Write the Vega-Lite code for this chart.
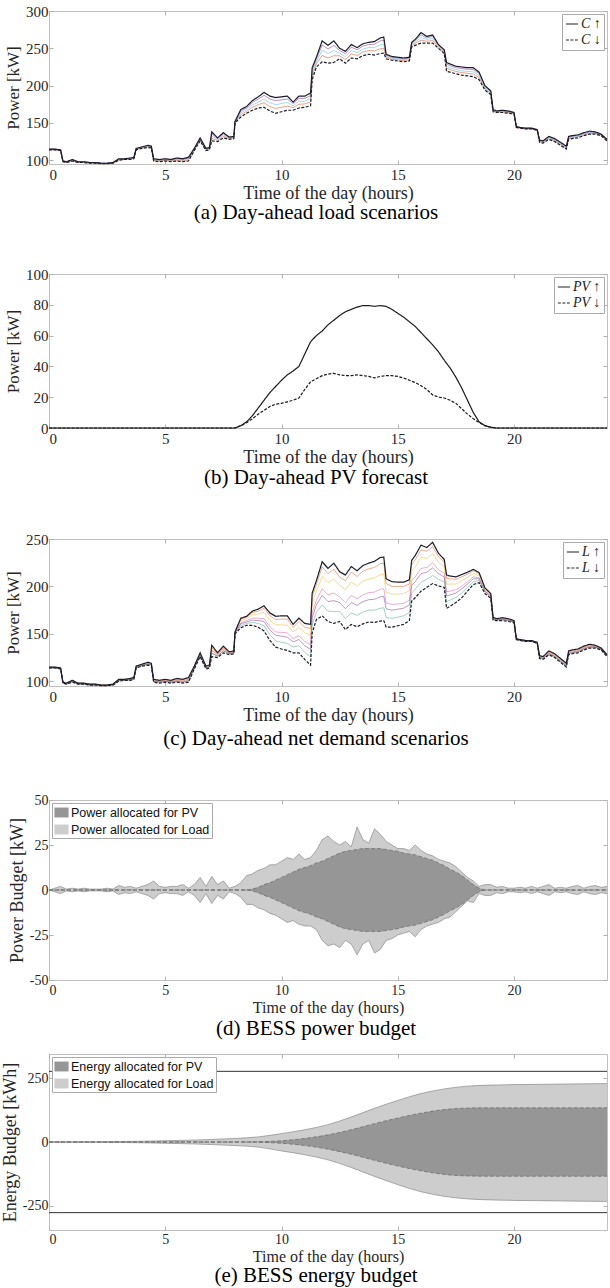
{
"$schema": "https://vega.github.io/schema/vega-lite/v6.json",
"padding": {"left": 0, "top": 3, "right": 0, "bottom": 0},
"background": "white",
"config": {
  "font": "Liberation Serif",
  "view": {"stroke": "#c0c0c0", "strokeWidth": 1},
  "axis": {"grid": false, "domain": false, "ticks": true, "tickSize": -4, "tickColor": "#b0b0b0", "labelOverlap": false, "labelFont": "Liberation Serif", "labelFontSize": 15, "labelColor": "#262626", "labelPadding": 7, "titleFont": "Liberation Serif", "titleFontWeight": "normal", "titleColor": "#262626"},
  "axisX": {"titleFontSize": 18, "titlePadding": 2},
  "axisY": {"titleFontSize": 17, "titlePadding": 3, "labelPadding": 5},
  "title": {"font": "Liberation Serif", "fontSize": 21, "fontWeight": "normal", "color": "#000000", "orient": "bottom", "anchor": "middle", "offset": 2}
},
"datasets": {
"ac": [
{"t":0,"au":115,"al":114,"a1":115,"a2":114.5,"a3":114,"cu":115,"cl":114,"c1":115,"c2":114.5,"c3":114.5,"c4":114,"c5":114},
{"t":0.25,"au":115,"al":114,"a1":115,"a2":114.5,"a3":114,"cu":115,"cl":114,"c1":115,"c2":114.5,"c3":114.5,"c4":114,"c5":114},
{"t":0.5,"au":114,"al":113,"a1":114,"a2":113.5,"a3":113,"cu":114,"cl":113,"c1":114,"c2":113.5,"c3":113.5,"c4":113,"c5":113},
{"t":0.6,"au":99,"al":98,"a1":99,"a2":98.5,"a3":98,"cu":99,"cl":98,"c1":99,"c2":98.5,"c3":98.5,"c4":98,"c5":98},
{"t":0.75,"au":98,"al":97,"a1":98,"a2":97.5,"a3":97,"cu":98,"cl":97,"c1":98,"c2":97.5,"c3":97.5,"c4":97,"c5":97},
{"t":1,"au":101,"al":99,"a1":100.5,"a2":100,"a3":99.5,"cu":101,"cl":99,"c1":100.5,"c2":100,"c3":100,"c4":99.5,"c5":99.5},
{"t":1.25,"au":98,"al":97,"a1":98,"a2":97.5,"a3":97,"cu":98,"cl":97,"c1":98,"c2":97.5,"c3":97.5,"c4":97,"c5":97},
{"t":1.5,"au":98,"al":97,"a1":98,"a2":97.5,"a3":97,"cu":98,"cl":97,"c1":98,"c2":97.5,"c3":97.5,"c4":97,"c5":97},
{"t":1.75,"au":97,"al":96,"a1":97,"a2":96.5,"a3":96,"cu":97,"cl":96,"c1":97,"c2":96.5,"c3":96.5,"c4":96,"c5":96},
{"t":2,"au":97,"al":96,"a1":97,"a2":96.5,"a3":96,"cu":97,"cl":96,"c1":97,"c2":96.5,"c3":96.5,"c4":96,"c5":96},
{"t":2.25,"au":96,"al":95.5,"a1":96,"a2":96,"a3":95.5,"cu":96,"cl":95.5,"c1":96,"c2":96,"c3":96,"c4":95.5,"c5":95.5},
{"t":2.5,"au":96,"al":95.5,"a1":96,"a2":96,"a3":95.5,"cu":96,"cl":95.5,"c1":96,"c2":96,"c3":96,"c4":95.5,"c5":95.5},
{"t":2.75,"au":97,"al":96,"a1":97,"a2":96.5,"a3":96,"cu":97,"cl":96,"c1":97,"c2":96.5,"c3":96.5,"c4":96,"c5":96},
{"t":3,"au":102,"al":100,"a1":101.5,"a2":101,"a3":100.5,"cu":102,"cl":100,"c1":101.5,"c2":101,"c3":101,"c4":100.5,"c5":100.5},
{"t":3.25,"au":102,"al":101,"a1":102,"a2":101.5,"a3":101,"cu":102,"cl":101,"c1":102,"c2":101.5,"c3":101.5,"c4":101,"c5":101},
{"t":3.5,"au":103,"al":101,"a1":102.5,"a2":102,"a3":101.5,"cu":103,"cl":101,"c1":102.5,"c2":102,"c3":102,"c4":101.5,"c5":101.5},
{"t":3.65,"au":104,"al":102,"a1":103.5,"a2":103,"a3":102.5,"cu":104,"cl":102,"c1":103.5,"c2":103,"c3":103,"c4":102.5,"c5":102.5},
{"t":3.75,"au":116,"al":114,"a1":115.5,"a2":115,"a3":114.5,"cu":116,"cl":114,"c1":115.5,"c2":115,"c3":115,"c4":114.5,"c5":114.5},
{"t":4,"au":118,"al":116,"a1":117.5,"a2":117,"a3":116.5,"cu":118,"cl":116,"c1":117.5,"c2":117,"c3":117,"c4":116.5,"c5":116.5},
{"t":4.25,"au":120,"al":117,"a1":119.5,"a2":118.5,"a3":118,"cu":120,"cl":117,"c1":119.5,"c2":118.5,"c3":118.5,"c4":118,"c5":118},
{"t":4.4,"au":119,"al":116.5,"a1":118.5,"a2":118,"a3":117.5,"cu":119,"cl":116.5,"c1":118.5,"c2":118,"c3":118,"c4":117.5,"c5":117.5},
{"t":4.5,"au":102,"al":99,"a1":101.5,"a2":100.5,"a3":100,"cu":102,"cl":99,"c1":101.5,"c2":100.5,"c3":100.5,"c4":100,"c5":100},
{"t":4.75,"au":101,"al":98,"a1":100.5,"a2":99.5,"a3":99,"cu":101,"cl":98,"c1":100.5,"c2":99.5,"c3":99.5,"c4":99,"c5":99},
{"t":5,"au":102,"al":99,"a1":101.5,"a2":100.5,"a3":100,"cu":102,"cl":99,"c1":101.5,"c2":100.5,"c3":100.5,"c4":100,"c5":100},
{"t":5.25,"au":101,"al":98,"a1":100.5,"a2":99.5,"a3":99,"cu":101,"cl":98,"c1":100.5,"c2":99.5,"c3":99.5,"c4":99,"c5":99},
{"t":5.5,"au":103,"al":99,"a1":102,"a2":101,"a3":100,"cu":103,"cl":99,"c1":102,"c2":101,"c3":101,"c4":100,"c5":100},
{"t":5.75,"au":102,"al":98,"a1":101,"a2":100,"a3":99,"cu":102,"cl":98,"c1":101,"c2":100,"c3":100,"c4":99,"c5":99},
{"t":6,"au":104,"al":99,"a1":103,"a2":102,"a3":100.5,"cu":104,"cl":99,"c1":103,"c2":102,"c3":102,"c4":100.5,"c5":100.5},
{"t":6.25,"au":116,"al":113,"a1":115.5,"a2":114.5,"a3":114,"cu":116,"cl":113,"c1":115.5,"c2":114.5,"c3":114.5,"c4":114,"c5":114},
{"t":6.5,"au":130,"al":126,"a1":129,"a2":128,"a3":127,"cu":130,"cl":126,"c1":129,"c2":128,"c3":128,"c4":127,"c5":127},
{"t":6.75,"au":116,"al":113,"a1":115.5,"a2":114.5,"a3":114,"cu":116,"cl":113,"c1":115.5,"c2":114.5,"c3":114.5,"c4":114,"c5":114},
{"t":6.9,"au":117,"al":114,"a1":116.5,"a2":115.5,"a3":115,"cu":117,"cl":114,"c1":116.5,"c2":115.5,"c3":115.5,"c4":115,"c5":115},
{"t":7,"au":138,"al":126,"a1":135.5,"a2":132.5,"a3":129.5,"cu":138,"cl":126,"c1":135.5,"c2":132.5,"c3":132.5,"c4":129.5,"c5":129.5},
{"t":7.25,"au":130,"al":125,"a1":129,"a2":128,"a3":126.5,"cu":130,"cl":125,"c1":129,"c2":128,"c3":128,"c4":126.5,"c5":126.5},
{"t":7.5,"au":137,"al":130,"a1":135.5,"a2":134,"a3":132,"cu":137,"cl":130,"c1":135.5,"c2":134,"c3":134,"c4":132,"c5":132},
{"t":7.75,"au":131,"al":128,"a1":130.5,"a2":129.5,"a3":129,"cu":131,"cl":128,"c1":130.5,"c2":129.5,"c3":129.5,"c4":129,"c5":129},
{"t":7.95,"au":132,"al":129,"a1":131.5,"a2":130.5,"a3":130,"cu":132,"cl":129,"c1":131.5,"c2":130.5,"c3":130.5,"c4":130,"c5":130},
{"t":8,"au":152,"al":150,"a1":151.5,"a2":151,"a3":150.5,"cu":152,"cl":150,"c1":152,"c2":151.5,"c3":151,"c4":151,"c5":150.5},
{"t":8.25,"au":168,"al":158,"a1":166,"a2":163.5,"a3":161,"cu":166.5,"cl":156.5,"c1":165.5,"c2":164,"c3":161.5,"c4":160.5,"c5":158.5},
{"t":8.5,"au":172,"al":163,"a1":170,"a2":168,"a3":165.5,"cu":168.5,"cl":159,"c1":167.5,"c2":166,"c3":164,"c4":162.5,"c5":161},
{"t":8.75,"au":180,"al":167,"a1":177.5,"a2":174,"a3":171,"cu":174,"cl":159,"c1":172.5,"c2":170,"c3":166.5,"c4":164.5,"c5":162},
{"t":9,"au":185,"al":170,"a1":182,"a2":178,"a3":174.5,"cu":176,"cl":157,"c1":174,"c2":171,"c3":166.5,"c4":164,"c5":161},
{"t":9.25,"au":191,"al":171,"a1":187,"a2":182,"a3":177,"cu":179.5,"cl":153,"c1":177,"c2":172.5,"c3":166,"c4":163,"c5":158.5},
{"t":9.5,"au":186,"al":166,"a1":182,"a2":177,"a3":172,"cu":172,"cl":143,"c1":169,"c2":164,"c3":157.5,"c4":154,"c5":149},
{"t":9.75,"au":184,"al":163,"a1":180,"a2":174.5,"a3":169.5,"cu":168.5,"cl":136,"c1":165,"c2":159.5,"c3":152,"c4":148.5,"c5":142.5},
{"t":10,"au":185,"al":165,"a1":181,"a2":176,"a3":171,"cu":169,"cl":134,"c1":165.5,"c2":159.5,"c3":151.5,"c4":147.5,"c5":141},
{"t":10.25,"au":186,"al":167,"a1":182,"a2":177.5,"a3":172.5,"cu":169,"cl":132.5,"c1":165.5,"c2":159,"c3":151,"c4":146.5,"c5":140},
{"t":10.5,"au":178,"al":167,"a1":176,"a2":173,"a3":170.5,"cu":160,"cl":130,"c1":157,"c2":152,"c3":145,"c4":141.5,"c5":136},
{"t":10.75,"au":186,"al":170,"a1":183,"a2":179,"a3":175,"cu":166.5,"cl":130,"c1":163,"c2":156.5,"c3":148,"c4":144,"c5":137.5},
{"t":11,"au":186,"al":171,"a1":183,"a2":179,"a3":175.5,"cu":161,"cl":123,"c1":157,"c2":151,"c3":142,"c4":137.5,"c5":130.5},
{"t":11.25,"au":190,"al":173,"a1":186.5,"a2":182.5,"a3":178,"cu":160,"cl":117,"c1":155.5,"c2":148.5,"c3":138.5,"c4":133.5,"c5":125.5},
{"t":11.32,"au":224,"al":208,"a1":221,"a2":217,"a3":213,"cu":193,"cl":151,"c1":189,"c2":182,"c3":172,"c4":167,"c5":159.5},
{"t":11.5,"au":238,"al":225,"a1":235.5,"a2":232,"a3":229,"cu":206,"cl":165,"c1":202,"c2":195,"c3":185.5,"c4":180.5,"c5":173},
{"t":11.75,"au":260,"al":232,"a1":254.5,"a2":247.5,"a3":240.5,"cu":226,"cl":169,"c1":220.5,"c2":210.5,"c3":197.5,"c4":190.5,"c5":180.5},
{"t":12,"au":254,"al":230,"a1":249,"a2":243,"a3":237,"cu":219,"cl":163,"c1":213.5,"c2":204,"c3":191,"c4":184,"c5":174},
{"t":12.25,"au":260,"al":231,"a1":254,"a2":247,"a3":240,"cu":224.5,"cl":161,"c1":218,"c2":207.5,"c3":193,"c4":185,"c5":173.5},
{"t":12.5,"au":250,"al":236,"a1":247,"a2":243.5,"a3":240,"cu":215.5,"cl":163,"c1":210,"c2":201.5,"c3":189,"c4":183,"c5":173.5},
{"t":12.75,"au":246,"al":230,"a1":243,"a2":239,"a3":235,"cu":212,"cl":154.5,"c1":206,"c2":196.5,"c3":183,"c4":176.5,"c5":166},
{"t":13,"au":255,"al":237,"a1":251.5,"a2":247,"a3":242.5,"cu":221,"cl":160,"c1":215,"c2":204.5,"c3":190.5,"c4":183,"c5":172},
{"t":13.25,"au":251,"al":236,"a1":248,"a2":244,"a3":240.5,"cu":216.5,"cl":157.5,"c1":210.5,"c2":200.5,"c3":187,"c4":180,"c5":169.5},
{"t":13.5,"au":256,"al":240,"a1":253,"a2":249,"a3":245,"cu":222,"cl":160.5,"c1":216,"c2":205.5,"c3":191,"c4":184,"c5":173},
{"t":13.75,"au":258,"al":242,"a1":255,"a2":251,"a3":247,"cu":224.5,"cl":162.5,"c1":218.5,"c2":207.5,"c3":193.5,"c4":186,"c5":175},
{"t":14,"au":259,"al":241,"a1":255.5,"a2":251,"a3":246.5,"cu":226.5,"cl":162,"c1":220,"c2":209,"c3":194,"c4":186.5,"c5":175},
{"t":14.25,"au":264,"al":243,"a1":260,"a2":254.5,"a3":249.5,"cu":230.5,"cl":163.5,"c1":224,"c2":212.5,"c3":197,"c4":189,"c5":177},
{"t":14.4,"au":265,"al":243.5,"a1":261,"a2":255.5,"a3":250,"cu":231,"cl":164,"c1":224.5,"c2":213,"c3":197.5,"c4":189.5,"c5":177.5},
{"t":14.5,"au":242,"al":236,"a1":241,"a2":239.5,"a3":238,"cu":208,"cl":157,"c1":203,"c2":194,"c3":182.5,"c4":176.5,"c5":167},
{"t":14.75,"au":239,"al":234,"a1":238,"a2":237,"a3":235.5,"cu":205,"cl":157,"c1":200,"c2":192,"c3":181,"c4":175,"c5":166.5},
{"t":15,"au":238,"al":233,"a1":237,"a2":236,"a3":234.5,"cu":204.5,"cl":158.5,"c1":200,"c2":192,"c3":181.5,"c4":176,"c5":167.5},
{"t":15.25,"au":237,"al":232,"a1":236,"a2":235,"a3":233.5,"cu":204.5,"cl":160,"c1":200,"c2":192.5,"c3":182,"c4":177,"c5":169},
{"t":15.5,"au":238,"al":233,"a1":237,"a2":236,"a3":234.5,"cu":207,"cl":164,"c1":202.5,"c2":195.5,"c3":185.5,"c4":180.5,"c5":172.5},
{"t":15.6,"au":258,"al":252,"a1":257,"a2":255.5,"a3":254,"cu":227.5,"cl":184.5,"c1":223,"c2":216,"c3":206,"c4":201,"c5":193},
{"t":15.75,"au":262,"al":254,"a1":260.5,"a2":258.5,"a3":256.5,"cu":232.5,"cl":188,"c1":228,"c2":220.5,"c3":210,"c4":205,"c5":197},
{"t":16,"au":271,"al":257,"a1":268,"a2":264.5,"a3":261,"cu":243.5,"cl":195,"c1":238.5,"c2":230.5,"c3":219,"c4":213.5,"c5":204.5},
{"t":16.25,"au":266,"al":257,"a1":264,"a2":262,"a3":259.5,"cu":241,"cl":199,"c1":237,"c2":229.5,"c3":220,"c4":215,"c5":207.5},
{"t":16.5,"au":268,"al":257,"a1":266,"a2":263,"a3":260.5,"cu":246.5,"cl":203,"c1":242,"c2":234.5,"c3":225,"c4":219.5,"c5":211.5},
{"t":16.75,"au":255,"al":250,"a1":254,"a2":253,"a3":251.5,"cu":235,"cl":200.5,"c1":231.5,"c2":225.5,"c3":217.5,"c4":213.5,"c5":207.5},
{"t":17,"au":248,"al":243,"a1":247,"a2":246,"a3":244.5,"cu":228.5,"cl":199,"c1":225.5,"c2":220.5,"c3":214,"c4":210,"c5":205},
{"t":17.1,"au":231,"al":219,"a1":229,"a2":226,"a3":223,"cu":212,"cl":177,"c1":208.5,"c2":202.5,"c3":194.5,"c4":190,"c5":184},
{"t":17.25,"au":229,"al":218,"a1":227,"a2":224,"a3":221.5,"cu":211,"cl":179,"c1":208,"c2":202.5,"c3":195,"c4":191,"c5":185.5},
{"t":17.5,"au":226,"al":216,"a1":224,"a2":221.5,"a3":219,"cu":210,"cl":183,"c1":207.5,"c2":202.5,"c3":196.5,"c4":193,"c5":188.5},
{"t":17.75,"au":225,"al":214,"a1":223,"a2":220,"a3":217.5,"cu":212.5,"cl":188,"c1":210,"c2":206,"c3":200,"c4":197.5,"c5":193},
{"t":18,"au":224,"al":213,"a1":222,"a2":219,"a3":216.5,"cu":215,"cl":195,"c1":213,"c2":209.5,"c3":205,"c4":202.5,"c5":199},
{"t":18.25,"au":224,"al":212,"a1":221.5,"a2":218.5,"a3":215.5,"cu":218,"cl":202,"c1":216.5,"c2":213.5,"c3":210,"c4":208,"c5":205},
{"t":18.5,"au":218,"al":208,"a1":216,"a2":213.5,"a3":211,"cu":214.5,"cl":204,"c1":213.5,"c2":211.5,"c3":209,"c4":208,"c5":206},
{"t":18.75,"au":200,"al":194,"a1":199,"a2":197.5,"a3":196,"cu":198.5,"cl":192.5,"c1":198,"c2":197,"c3":195.5,"c4":195,"c5":193.5},
{"t":19,"au":193,"al":188,"a1":192,"a2":190.5,"a3":189.5,"cu":192.5,"cl":187.5,"c1":192,"c2":191,"c3":190,"c4":189.5,"c5":188.5},
{"t":19.1,"au":168,"al":165,"a1":167.5,"a2":166.5,"a3":166,"cu":167.5,"cl":164.5,"c1":167,"c2":166.5,"c3":166,"c4":165.5,"c5":165},
{"t":19.25,"au":166,"al":164,"a1":165.5,"a2":165,"a3":164.5,"cu":166,"cl":164,"c1":165.5,"c2":165,"c3":165,"c4":164.5,"c5":164.5},
{"t":19.5,"au":167,"al":164,"a1":166.5,"a2":165.5,"a3":165,"cu":167,"cl":164,"c1":166.5,"c2":165.5,"c3":165.5,"c4":165,"c5":165},
{"t":19.75,"au":166,"al":163,"a1":165.5,"a2":164.5,"a3":164,"cu":166,"cl":163,"c1":165.5,"c2":164.5,"c3":164.5,"c4":164,"c5":164},
{"t":20,"au":164,"al":162,"a1":163.5,"a2":163,"a3":162.5,"cu":164,"cl":162,"c1":163.5,"c2":163,"c3":163,"c4":162.5,"c5":162.5},
{"t":20.1,"au":145,"al":144,"a1":145,"a2":144.5,"a3":144,"cu":145,"cl":144,"c1":145,"c2":144.5,"c3":144.5,"c4":144,"c5":144},
{"t":20.25,"au":144,"al":143,"a1":144,"a2":143.5,"a3":143,"cu":144,"cl":143,"c1":144,"c2":143.5,"c3":143.5,"c4":143,"c5":143},
{"t":20.5,"au":143,"al":142,"a1":143,"a2":142.5,"a3":142,"cu":143,"cl":142,"c1":143,"c2":142.5,"c3":142.5,"c4":142,"c5":142},
{"t":20.75,"au":143,"al":142,"a1":143,"a2":142.5,"a3":142,"cu":143,"cl":142,"c1":143,"c2":142.5,"c3":142.5,"c4":142,"c5":142},
{"t":21,"au":141,"al":140,"a1":141,"a2":140.5,"a3":140,"cu":141,"cl":140,"c1":141,"c2":140.5,"c3":140.5,"c4":140,"c5":140},
{"t":21.1,"au":127,"al":124,"a1":126.5,"a2":125.5,"a3":125,"cu":127,"cl":124,"c1":126.5,"c2":125.5,"c3":125.5,"c4":125,"c5":125},
{"t":21.25,"au":126,"al":123,"a1":125.5,"a2":124.5,"a3":124,"cu":126,"cl":123,"c1":125.5,"c2":124.5,"c3":124.5,"c4":124,"c5":124},
{"t":21.5,"au":132,"al":128,"a1":131,"a2":130,"a3":129,"cu":132,"cl":128,"c1":131,"c2":130,"c3":130,"c4":129,"c5":129},
{"t":21.75,"au":129,"al":125,"a1":128,"a2":127,"a3":126,"cu":129,"cl":125,"c1":128,"c2":127,"c3":127,"c4":126,"c5":126},
{"t":22,"au":124,"al":120,"a1":123,"a2":122,"a3":121,"cu":124,"cl":120,"c1":123,"c2":122,"c3":122,"c4":121,"c5":121},
{"t":22.25,"au":119,"al":115,"a1":118,"a2":117,"a3":116,"cu":119,"cl":115,"c1":118,"c2":117,"c3":117,"c4":116,"c5":116},
{"t":22.35,"au":132,"al":128,"a1":131,"a2":130,"a3":129,"cu":132,"cl":128,"c1":131,"c2":130,"c3":130,"c4":129,"c5":129},
{"t":22.5,"au":133,"al":129,"a1":132,"a2":131,"a3":130,"cu":133,"cl":129,"c1":132,"c2":131,"c3":131,"c4":130,"c5":130},
{"t":22.75,"au":134,"al":130,"a1":133,"a2":132,"a3":131,"cu":134,"cl":130,"c1":133,"c2":132,"c3":132,"c4":131,"c5":131},
{"t":23,"au":137,"al":133,"a1":136,"a2":135,"a3":134,"cu":137,"cl":133,"c1":136,"c2":135,"c3":135,"c4":134,"c5":134},
{"t":23.25,"au":139,"al":135,"a1":138,"a2":137,"a3":136,"cu":139,"cl":135,"c1":138,"c2":137,"c3":137,"c4":136,"c5":136},
{"t":23.5,"au":138,"al":135,"a1":137.5,"a2":136.5,"a3":136,"cu":138,"cl":135,"c1":137.5,"c2":136.5,"c3":136.5,"c4":136,"c5":136},
{"t":23.75,"au":135,"al":133,"a1":134.5,"a2":134,"a3":133.5,"cu":135,"cl":133,"c1":134.5,"c2":134,"c3":134,"c4":133.5,"c5":133.5},
{"t":24,"au":128,"al":126,"a1":127.5,"a2":127,"a3":126.5,"cu":128,"cl":126,"c1":127.5,"c2":127,"c3":127,"c4":126.5,"c5":126.5}
],
"pv": [
{"t":0,"pu":0,"pd":0},{"t":8,"pu":0,"pd":0},{"t":8.25,"pu":1.5,"pd":1.5},{"t":8.5,"pu":4,"pd":3.5},{"t":8.75,"pu":8,"pd":6},{"t":9,"pu":13,"pd":9},{"t":9.25,"pu":18,"pd":11.5},{"t":9.5,"pu":23,"pd":14},{"t":9.75,"pu":27,"pd":15.5},{"t":10,"pu":31,"pd":16},{"t":10.25,"pu":34.5,"pd":17},{"t":10.5,"pu":37,"pd":18},{"t":10.75,"pu":40,"pd":19.5},{"t":11,"pu":48,"pd":25},{"t":11.25,"pu":56,"pd":30},{"t":11.5,"pu":60,"pd":32},{"t":11.75,"pu":63,"pd":34},{"t":12,"pu":67,"pd":35},{"t":12.25,"pu":70,"pd":35.5},{"t":12.5,"pu":73,"pd":34.5},{"t":12.75,"pu":75.5,"pd":34},{"t":13,"pu":77,"pd":34},{"t":13.25,"pu":78.5,"pd":34.5},{"t":13.5,"pu":79.5,"pd":34},{"t":13.75,"pu":79.5,"pd":33.5},{"t":14,"pu":79,"pd":32.5},{"t":14.25,"pu":79.5,"pd":33.5},{"t":14.5,"pu":79,"pd":34},{"t":14.75,"pu":77,"pd":34},{"t":15,"pu":74.5,"pd":33.5},{"t":15.25,"pu":72,"pd":32.5},{"t":15.5,"pu":69,"pd":31},{"t":15.75,"pu":66,"pd":29.5},{"t":16,"pu":62,"pd":27.5},{"t":16.25,"pu":58,"pd":25},{"t":16.5,"pu":54,"pd":21.5},{"t":16.75,"pu":49.5,"pd":20},{"t":17,"pu":44,"pd":19.5},{"t":17.25,"pu":39,"pd":18},{"t":17.5,"pu":33,"pd":16},{"t":17.75,"pu":26,"pd":12.5},{"t":18,"pu":18,"pd":9},{"t":18.25,"pu":10,"pd":6},{"t":18.5,"pu":4,"pd":3.5},{"t":18.75,"pu":1.5,"pd":1.5},{"t":19,"pu":0.5,"pd":0.5},{"t":19.25,"pu":0,"pd":0},{"t":24,"pu":0,"pd":0}
],
"pb": [
{"t":0,"du":0,"dl":0,"lu":0,"ll":0},{"t":0.25,"du":0,"dl":0,"lu":1,"ll":-1},{"t":0.5,"du":0,"dl":0,"lu":2,"ll":-2},{"t":0.75,"du":0,"dl":0,"lu":0.5,"ll":-0.5},{"t":1,"du":0,"dl":0,"lu":1,"ll":-1},{"t":1.25,"du":0,"dl":0,"lu":0.5,"ll":-0.5},{"t":1.5,"du":0,"dl":0,"lu":1,"ll":-1},{"t":1.75,"du":0,"dl":0,"lu":0.5,"ll":-0.5},{"t":2,"du":0,"dl":0,"lu":0.5,"ll":-0.5},{"t":2.25,"du":0,"dl":0,"lu":0.5,"ll":-0.5},{"t":2.5,"du":0,"dl":0,"lu":1,"ll":-1},{"t":2.75,"du":0,"dl":0,"lu":0.5,"ll":-0.5},
{"t":3,"du":0,"dl":0,"lu":2.5,"ll":-2.5},{"t":3.25,"du":0,"dl":0,"lu":1.5,"ll":-1.5},{"t":3.5,"du":0,"dl":0,"lu":2,"ll":-2},{"t":3.75,"du":0,"dl":0,"lu":1,"ll":-1},{"t":4,"du":0,"dl":0,"lu":2,"ll":-2},{"t":4.25,"du":0,"dl":0,"lu":3,"ll":-3},{"t":4.5,"du":0,"dl":0,"lu":5,"ll":-5},{"t":4.75,"du":0,"dl":0,"lu":2,"ll":-2},{"t":5,"du":0,"dl":0,"lu":1.5,"ll":-1.5},{"t":5.25,"du":0,"dl":0,"lu":2,"ll":-2},{"t":5.5,"du":0,"dl":0,"lu":2,"ll":-2},{"t":5.75,"du":0,"dl":0,"lu":3,"ll":-3},
{"t":6,"du":0,"dl":0,"lu":1,"ll":-1},{"t":6.25,"du":0,"dl":0,"lu":3,"ll":-3},{"t":6.5,"du":0,"dl":0,"lu":7,"ll":-7},{"t":6.75,"du":0,"dl":0,"lu":2,"ll":-2},{"t":7,"du":0,"dl":0,"lu":7.5,"ll":-7.5},{"t":7.25,"du":0,"dl":0,"lu":3,"ll":-3},{"t":7.5,"du":0,"dl":0,"lu":5,"ll":-5},{"t":7.75,"du":0,"dl":0,"lu":1,"ll":-1},{"t":8,"du":0,"dl":0,"lu":2,"ll":-2},{"t":8.25,"du":0,"dl":0,"lu":4,"ll":-4},{"t":8.5,"du":0,"dl":0,"lu":8,"ll":-8},
{"t":8.75,"du":0.5,"dl":-0.5,"lu":9,"ll":-8},{"t":9,"du":1.5,"dl":-1.5,"lu":11,"ll":-10},{"t":9.25,"du":3,"dl":-3,"lu":12,"ll":-11},{"t":9.5,"du":4,"dl":-4,"lu":14,"ll":-13},{"t":9.75,"du":5.5,"dl":-5.5,"lu":14,"ll":-14},{"t":10,"du":7,"dl":-7,"lu":16,"ll":-16},{"t":10.25,"du":8.5,"dl":-8.5,"lu":18,"ll":-18},{"t":10.5,"du":10,"dl":-10,"lu":17,"ll":-17},{"t":10.75,"du":11.5,"dl":-11.5,"lu":20,"ll":-19},{"t":11,"du":12.5,"dl":-12.5,"lu":17,"ll":-20},{"t":11.25,"du":13.5,"dl":-13.5,"lu":18,"ll":-20},{"t":11.5,"du":15,"dl":-15,"lu":22,"ll":-22},
{"t":11.75,"du":16,"dl":-16,"lu":28,"ll":-28},{"t":12,"du":17.5,"dl":-17.5,"lu":30,"ll":-31},{"t":12.25,"du":19,"dl":-19,"lu":27,"ll":-30},{"t":12.5,"du":20.5,"dl":-20.5,"lu":25,"ll":-32},{"t":12.75,"du":21.5,"dl":-21.5,"lu":27,"ll":-28},{"t":13,"du":22,"dl":-22,"lu":24,"ll":-30},{"t":13.25,"du":22.5,"dl":-22.5,"lu":35,"ll":-36},{"t":13.5,"du":23,"dl":-23,"lu":28,"ll":-30},{"t":13.75,"du":23,"dl":-23,"lu":26,"ll":-28},{"t":14,"du":23,"dl":-23,"lu":34,"ll":-35},{"t":14.25,"du":23,"dl":-23,"lu":31,"ll":-33},{"t":14.5,"du":22.5,"dl":-22.5,"lu":27,"ll":-28},
{"t":14.75,"du":22,"dl":-22,"lu":25,"ll":-27},{"t":15,"du":21.5,"dl":-21.5,"lu":23,"ll":-25},{"t":15.25,"du":20.5,"dl":-20.5,"lu":23,"ll":-24},{"t":15.5,"du":20,"dl":-20,"lu":22,"ll":-23},{"t":15.75,"du":19.5,"dl":-19.5,"lu":25,"ll":-26},{"t":16,"du":18.5,"dl":-18.5,"lu":22,"ll":-22},{"t":16.25,"du":17.5,"dl":-17.5,"lu":20,"ll":-20},{"t":16.5,"du":16.5,"dl":-16.5,"lu":19,"ll":-19},{"t":16.75,"du":15,"dl":-15,"lu":17,"ll":-18},{"t":17,"du":13.5,"dl":-13.5,"lu":16,"ll":-16},{"t":17.25,"du":11.5,"dl":-11.5,"lu":15,"ll":-15},{"t":17.5,"du":10,"dl":-10,"lu":13,"ll":-12},
{"t":17.75,"du":8,"dl":-8,"lu":10,"ll":-9},{"t":18,"du":5.5,"dl":-5.5,"lu":7,"ll":-6},{"t":18.25,"du":3,"dl":-3,"lu":5,"ll":-7},{"t":18.5,"du":1,"dl":-1,"lu":2,"ll":-2},{"t":18.75,"du":0,"dl":0,"lu":3,"ll":-3},{"t":19,"du":0,"dl":0,"lu":3,"ll":-3},{"t":19.25,"du":0,"dl":0,"lu":1.5,"ll":-1.5},{"t":19.5,"du":0,"dl":0,"lu":2,"ll":-2},{"t":19.75,"du":0,"dl":0,"lu":1,"ll":-1},{"t":20,"du":0,"dl":0,"lu":1,"ll":-1},{"t":20.25,"du":0,"dl":0,"lu":1.5,"ll":-1.5},{"t":20.5,"du":0,"dl":0,"lu":1,"ll":-1},
{"t":20.75,"du":0,"dl":0,"lu":2,"ll":-2},{"t":21,"du":0,"dl":0,"lu":1,"ll":-1},{"t":21.25,"du":0,"dl":0,"lu":2,"ll":-2},{"t":21.5,"du":0,"dl":0,"lu":3,"ll":-3},{"t":21.75,"du":0,"dl":0,"lu":1,"ll":-1},{"t":22,"du":0,"dl":0,"lu":1.5,"ll":-1.5},{"t":22.25,"du":0,"dl":0,"lu":1,"ll":-1},{"t":22.5,"du":0,"dl":0,"lu":2,"ll":-2},{"t":22.75,"du":0,"dl":0,"lu":2.5,"ll":-2.5},{"t":23,"du":0,"dl":0,"lu":1,"ll":-1},{"t":23.25,"du":0,"dl":0,"lu":2,"ll":-2},{"t":23.5,"du":0,"dl":0,"lu":2.5,"ll":-2.5},{"t":23.75,"du":0,"dl":0,"lu":1.5,"ll":-1.5},{"t":24,"du":0,"dl":0,"lu":2,"ll":-2}
],
"eb": [
{"t":0,"du":0,"dl":0,"lu":0,"ll":0},{"t":1,"du":0,"dl":0,"lu":0.5,"ll":-0.5},{"t":2,"du":0,"dl":0,"lu":1,"ll":-1},{"t":3,"du":0,"dl":0,"lu":2,"ll":-2},{"t":4,"du":0,"dl":0,"lu":3,"ll":-3},{"t":5,"du":0,"dl":0,"lu":5,"ll":-5},{"t":6,"du":0,"dl":0,"lu":7,"ll":-7},{"t":7,"du":0,"dl":0,"lu":10,"ll":-10},{"t":8,"du":0,"dl":0,"lu":14,"ll":-14},{"t":9,"du":1,"dl":-1,"lu":20,"ll":-20},{"t":10,"du":5,"dl":-5,"lu":33,"ll":-35},{"t":11,"du":14,"dl":-14,"lu":48,"ll":-50},{"t":12,"du":28,"dl":-28,"lu":68,"ll":-70},{"t":13,"du":48,"dl":-48,"lu":98,"ll":-100},{"t":14,"du":72,"dl":-72,"lu":132,"ll":-135},{"t":15,"du":94,"dl":-94,"lu":163,"ll":-167},{"t":16,"du":113,"dl":-113,"lu":190,"ll":-195},{"t":17,"du":127,"dl":-127,"lu":208,"ll":-213},{"t":18,"du":133,"dl":-133,"lu":219,"ll":-223},{"t":19,"du":134,"dl":-134,"lu":223,"ll":-227},{"t":20,"du":134,"dl":-134,"lu":225,"ll":-229},{"t":21,"du":134,"dl":-134,"lu":226,"ll":-230},{"t":22,"du":134,"dl":-134,"lu":227,"ll":-231},{"t":23,"du":134,"dl":-134,"lu":228,"ll":-232},{"t":24,"du":134,"dl":-134,"lu":229,"ll":-233}
]
},
"spacing": 13,
"vconcat": [
{
"spacing": 42,
"vconcat": [
{
"width": 558, "height": 153,
"data": {"name": "ac"},
"title": {"text": "(a) Day-ahead load scenarios", "frame": "group", "dx": -12, "offset": 0},
"resolve": {"axis": {"x": "independent", "y": "independent"}},
"layer": [
{"transform": [{"fold": ["a1","a2","a3"], "as": ["s","v"]}],
 "mark": {"type": "line", "strokeWidth": 0.9, "opacity": 0.6},
 "encoding": {
  "x": {"field": "t", "type": "quantitative", "scale": {"domain": [0,24], "nice": false, "zero": false}, "axis": {"values": [0,5,10,15,20], "title": "Time of the day (hours)"}},
  "y": {"field": "v", "type": "quantitative", "scale": {"domain": [95,300], "nice": false, "zero": false}, "axis": {"values": [100,150,200,250,300], "title": "Power [kW]"}},
  "color": {"field": "s", "type": "nominal", "scale": {"domain": ["a1","a2","a3"], "range": ["#7E2F8E","#4DBEEE","#D95319"]}, "legend": null}}},
{"transform": [{"fold": ["au","al"], "as": ["k","v"]}],
 "mark": {"type": "line", "strokeWidth": 1.2, "color": "#1c1c2c"},
 "encoding": {
  "x": {"field": "t", "type": "quantitative", "axis": {"orient": "top", "values": [0,5,10,15,20], "labels": false, "title": null}},
  "y": {"field": "v", "type": "quantitative", "axis": {"orient": "right", "values": [100,150,200,250,300], "labels": false, "title": null}},
  "strokeDash": {"field": "k", "type": "nominal", "scale": {"domain": ["au","al"], "range": [[1,0],[3,1.5]]},
   "legend": {"title": null, "orient": "top-right", "offset": 3, "labelExpr": "datum.label == 'au' ? 'C ↑' : 'C ↓'", "labelFont": "Liberation Serif", "labelFontStyle": "italic", "labelFontSize": 14, "labelColor": "#222", "symbolType": "stroke", "symbolSize": 150, "symbolStrokeWidth": 1.2, "symbolStrokeColor": "#222", "strokeColor": "#aaaaaa", "fillColor": "white", "padding": 3, "rowPadding": 2, "labelOffset": 2}}}}
]
},
{
"width": 558, "height": 154,
"data": {"name": "pv"},
"title": {"text": "(b) Day-ahead PV forecast", "frame": "group", "dx": -12, "offset": 1},
"resolve": {"axis": {"x": "independent", "y": "independent"}},
"layer": [
{"transform": [{"fold": ["pu","pd"], "as": ["k","v"]}],
 "mark": {"type": "line", "strokeWidth": 1.2, "color": "#1a1a1a"},
 "encoding": {
  "x": {"field": "t", "type": "quantitative", "scale": {"domain": [0,24], "nice": false, "zero": false}, "axis": {"values": [0,5,10,15,20], "title": "Time of the day (hours)"}},
  "y": {"field": "v", "type": "quantitative", "scale": {"domain": [0,100], "nice": false}, "axis": {"values": [0,20,40,60,80,100], "title": "Power [kW]"}},
  "strokeDash": {"field": "k", "type": "nominal", "scale": {"domain": ["pu","pd"], "range": [[1,0],[3,1.5]]},
   "legend": {"title": null, "orient": "top-right", "offset": 3, "labelExpr": "datum.label == 'pu' ? 'PV ↑' : 'PV ↓'", "labelFont": "Liberation Serif", "labelFontStyle": "italic", "labelFontSize": 14, "labelColor": "#222", "symbolType": "stroke", "symbolSize": 150, "symbolStrokeWidth": 1.2, "symbolStrokeColor": "#222", "strokeColor": "#aaaaaa", "fillColor": "white", "padding": 3, "rowPadding": 2, "labelOffset": 2}}}},
{"mark": {"type": "line", "opacity": 0},
 "encoding": {
  "x": {"field": "t", "type": "quantitative", "axis": {"orient": "top", "values": [0,5,10,15,20], "labels": false, "title": null}},
  "y": {"field": "pu", "type": "quantitative", "axis": {"orient": "right", "values": [0,20,40,60,80,100], "labels": false, "title": null}}}}
]
},
{
"width": 558, "height": 147,
"data": {"name": "ac"},
"title": {"text": "(c) Day-ahead net demand scenarios", "frame": "group", "dx": -12, "offset": 4},
"resolve": {"axis": {"x": "independent", "y": "independent"}},
"layer": [
{"transform": [{"fold": ["c1","c2","c3","c4","c5"], "as": ["s","v"]}],
 "mark": {"type": "line", "strokeWidth": 0.9, "opacity": 0.55},
 "encoding": {
  "x": {"field": "t", "type": "quantitative", "scale": {"domain": [0,24], "nice": false, "zero": false}, "axis": {"values": [0,5,10,15,20], "title": "Time of the day (hours)"}},
  "y": {"field": "v", "type": "quantitative", "scale": {"domain": [95,250], "nice": false, "zero": false}, "axis": {"values": [100,150,200,250], "title": "Power [kW]"}},
  "color": {"field": "s", "type": "nominal", "scale": {"domain": ["c1","c2","c3","c4","c5"], "range": ["#D95319","#EDB120","#d4589a","#7E2F8E","#3fa58b"]}, "legend": null}}},
{"transform": [{"fold": ["cu","cl"], "as": ["k","v"]}],
 "mark": {"type": "line", "strokeWidth": 1.2, "color": "#1c1c2c"},
 "encoding": {
  "x": {"field": "t", "type": "quantitative", "axis": {"orient": "top", "values": [0,5,10,15,20], "labels": false, "title": null}},
  "y": {"field": "v", "type": "quantitative", "axis": {"orient": "right", "values": [100,150,200,250], "labels": false, "title": null}},
  "strokeDash": {"field": "k", "type": "nominal", "scale": {"domain": ["cu","cl"], "range": [[1,0],[3,1.5]]},
   "legend": {"title": null, "orient": "top-right", "offset": 3, "labelExpr": "datum.label == 'cu' ? 'L ↑' : 'L ↓'", "labelFont": "Liberation Serif", "labelFontStyle": "italic", "labelFontSize": 14, "labelColor": "#222", "symbolType": "stroke", "symbolSize": 150, "symbolStrokeWidth": 1.2, "symbolStrokeColor": "#222", "strokeColor": "#aaaaaa", "fillColor": "white", "padding": 3, "rowPadding": 2, "labelOffset": 2}}}}
]
},
{
"width": 558, "height": 180,
"data": {"name": "pb"},
"title": {"text": "(d) BESS power budget", "frame": "group", "dx": -12, "offset": 3},
"resolve": {"axis": {"x": "independent", "y": "independent"}},
"layer": [
{"mark": {"type": "area", "opacity": 1},
 "encoding": {
  "x": {"field": "t", "type": "quantitative", "scale": {"domain": [0,24], "nice": false, "zero": false}, "axis": {"values": [0,5,10,15,20], "title": "Time of the day (hours)", "labelFontSize": 14, "titleFontSize": 16}},
  "y": {"field": "ll", "type": "quantitative", "scale": {"domain": [-50,50], "nice": false}, "axis": {"values": [-50,-25,0,25,50], "labelExpr": "'' + datum.value", "labelFontSize": 14, "title": "Power Budget [kW]", "titleFontSize": 18}},
  "y2": {"field": "lu"},
  "color": {"datum": "Power allocated for Load", "type": "nominal", "scale": {"domain": ["Power allocated for PV","Power allocated for Load"], "range": ["#969696","#cdcdcd"]},
   "legend": {"title": null, "orient": "top-left", "offset": 3, "symbolType": "M-1,-0.7H1V0.7H-1Z", "symbolSize": 200, "symbolStrokeWidth": 0, "labelFont": "Liberation Sans", "labelFontSize": 12.5, "labelColor": "#111", "strokeColor": "#aaaaaa", "fillColor": "white", "padding": 2, "rowPadding": 3, "labelOffset": 2}}}},
{"transform": [{"fold": ["lu","ll"], "as": ["k","v"]}],
 "mark": {"type": "line", "strokeWidth": 0.7, "color": "#8a8a8a"},
 "encoding": {
  "x": {"field": "t", "type": "quantitative", "axis": {"orient": "top", "values": [0,5,10,15,20], "labels": false, "title": null}},
  "y": {"field": "v", "type": "quantitative", "axis": {"orient": "right", "values": [-50,-25,0,25,50], "labels": false, "title": null}},
  "detail": {"field": "k"}}},
{"data": {"values": [{}]}, "mark": {"type": "rule", "strokeDash": [5,3], "color": "#999999", "strokeWidth": 1},
 "encoding": {"y": {"datum": 0, "axis": null}}},
{"mark": {"type": "area", "opacity": 1},
 "encoding": {
  "x": {"field": "t", "type": "quantitative", "axis": null},
  "y": {"field": "dl", "type": "quantitative", "axis": null},
  "y2": {"field": "du"},
  "color": {"datum": "Power allocated for PV", "type": "nominal"}}},
{"transform": [{"fold": ["du","dl"], "as": ["k","v"]}],
 "mark": {"type": "line", "strokeWidth": 0.8, "color": "#6e6e6e", "strokeDash": [4,2]},
 "encoding": {"x": {"field": "t", "type": "quantitative", "axis": null}, "y": {"field": "v", "type": "quantitative", "axis": null}, "detail": {"field": "k"}}}
]
}
],
"resolve": {"scale": {"color": "independent", "strokeDash": "independent"}, "legend": {"color": "independent", "strokeDash": "independent"}}
},
{
"width": 558, "height": 176,
"data": {"name": "eb"},
"title": {"text": "(e) BESS energy budget", "frame": "group", "dx": -12, "offset": 1},
"resolve": {"axis": {"x": "independent", "y": "independent"}},
"layer": [
{"mark": {"type": "area", "opacity": 1, "interpolate": "monotone"},
 "encoding": {
  "x": {"field": "t", "type": "quantitative", "scale": {"domain": [0,24], "nice": false, "zero": false}, "axis": {"values": [0,5,10,15,20], "title": "Time of the day (hours)", "labelFontSize": 14, "titleFontSize": 16, "labelPadding": 6}},
  "y": {"field": "ll", "type": "quantitative", "scale": {"domain": [-345,345], "nice": false}, "axis": {"values": [-250,0,250], "labelExpr": "'' + datum.value", "labelFontSize": 14, "title": "Energy Budget [kWh]", "titleFontSize": 18}},
  "y2": {"field": "lu"},
  "color": {"datum": "Energy allocated for Load", "type": "nominal", "scale": {"domain": ["Energy allocated for PV","Energy allocated for Load"], "range": ["#969696","#cdcdcd"]},
   "legend": {"title": null, "orient": "top-left", "offset": 3, "symbolType": "M-1,-0.7H1V0.7H-1Z", "symbolSize": 200, "symbolStrokeWidth": 0, "labelFont": "Liberation Sans", "labelFontSize": 12.5, "labelColor": "#111", "strokeColor": "#aaaaaa", "fillColor": "white", "padding": 2, "rowPadding": 3, "labelOffset": 2}}}},
{"transform": [{"fold": ["lu","ll"], "as": ["k","v"]}],
 "mark": {"type": "line", "strokeWidth": 0.7, "color": "#8a8a8a", "interpolate": "monotone"},
 "encoding": {
  "x": {"field": "t", "type": "quantitative", "axis": {"orient": "top", "values": [0,5,10,15,20], "labels": false, "title": null}},
  "y": {"field": "v", "type": "quantitative", "axis": {"orient": "right", "values": [-250,0,250], "labels": false, "title": null}},
  "detail": {"field": "k"}}},
{"data": {"values": [{}]}, "mark": {"type": "rule", "strokeDash": [5,3], "color": "#999999", "strokeWidth": 1},
 "encoding": {"y": {"datum": 0, "axis": null}}},
{"mark": {"type": "area", "opacity": 1, "interpolate": "monotone"},
 "encoding": {
  "x": {"field": "t", "type": "quantitative", "axis": null},
  "y": {"field": "dl", "type": "quantitative", "axis": null},
  "y2": {"field": "du"},
  "color": {"datum": "Energy allocated for PV", "type": "nominal"}}},
{"transform": [{"fold": ["du","dl"], "as": ["k","v"]}],
 "mark": {"type": "line", "strokeWidth": 0.8, "color": "#6e6e6e", "strokeDash": [4,2], "interpolate": "monotone"},
 "encoding": {"x": {"field": "t", "type": "quantitative", "axis": null}, "y": {"field": "v", "type": "quantitative", "axis": null}, "detail": {"field": "k"}}},
{"data": {"values": [{}]}, "mark": {"type": "rule", "color": "#333333", "strokeWidth": 1}, "encoding": {"y": {"datum": 277, "axis": null}}},
{"data": {"values": [{}]}, "mark": {"type": "rule", "color": "#333333", "strokeWidth": 1}, "encoding": {"y": {"datum": -277, "axis": null}}}
]
}
],
"resolve": {"scale": {"color": "independent", "strokeDash": "independent"}, "legend": {"color": "independent", "strokeDash": "independent"}}
}
